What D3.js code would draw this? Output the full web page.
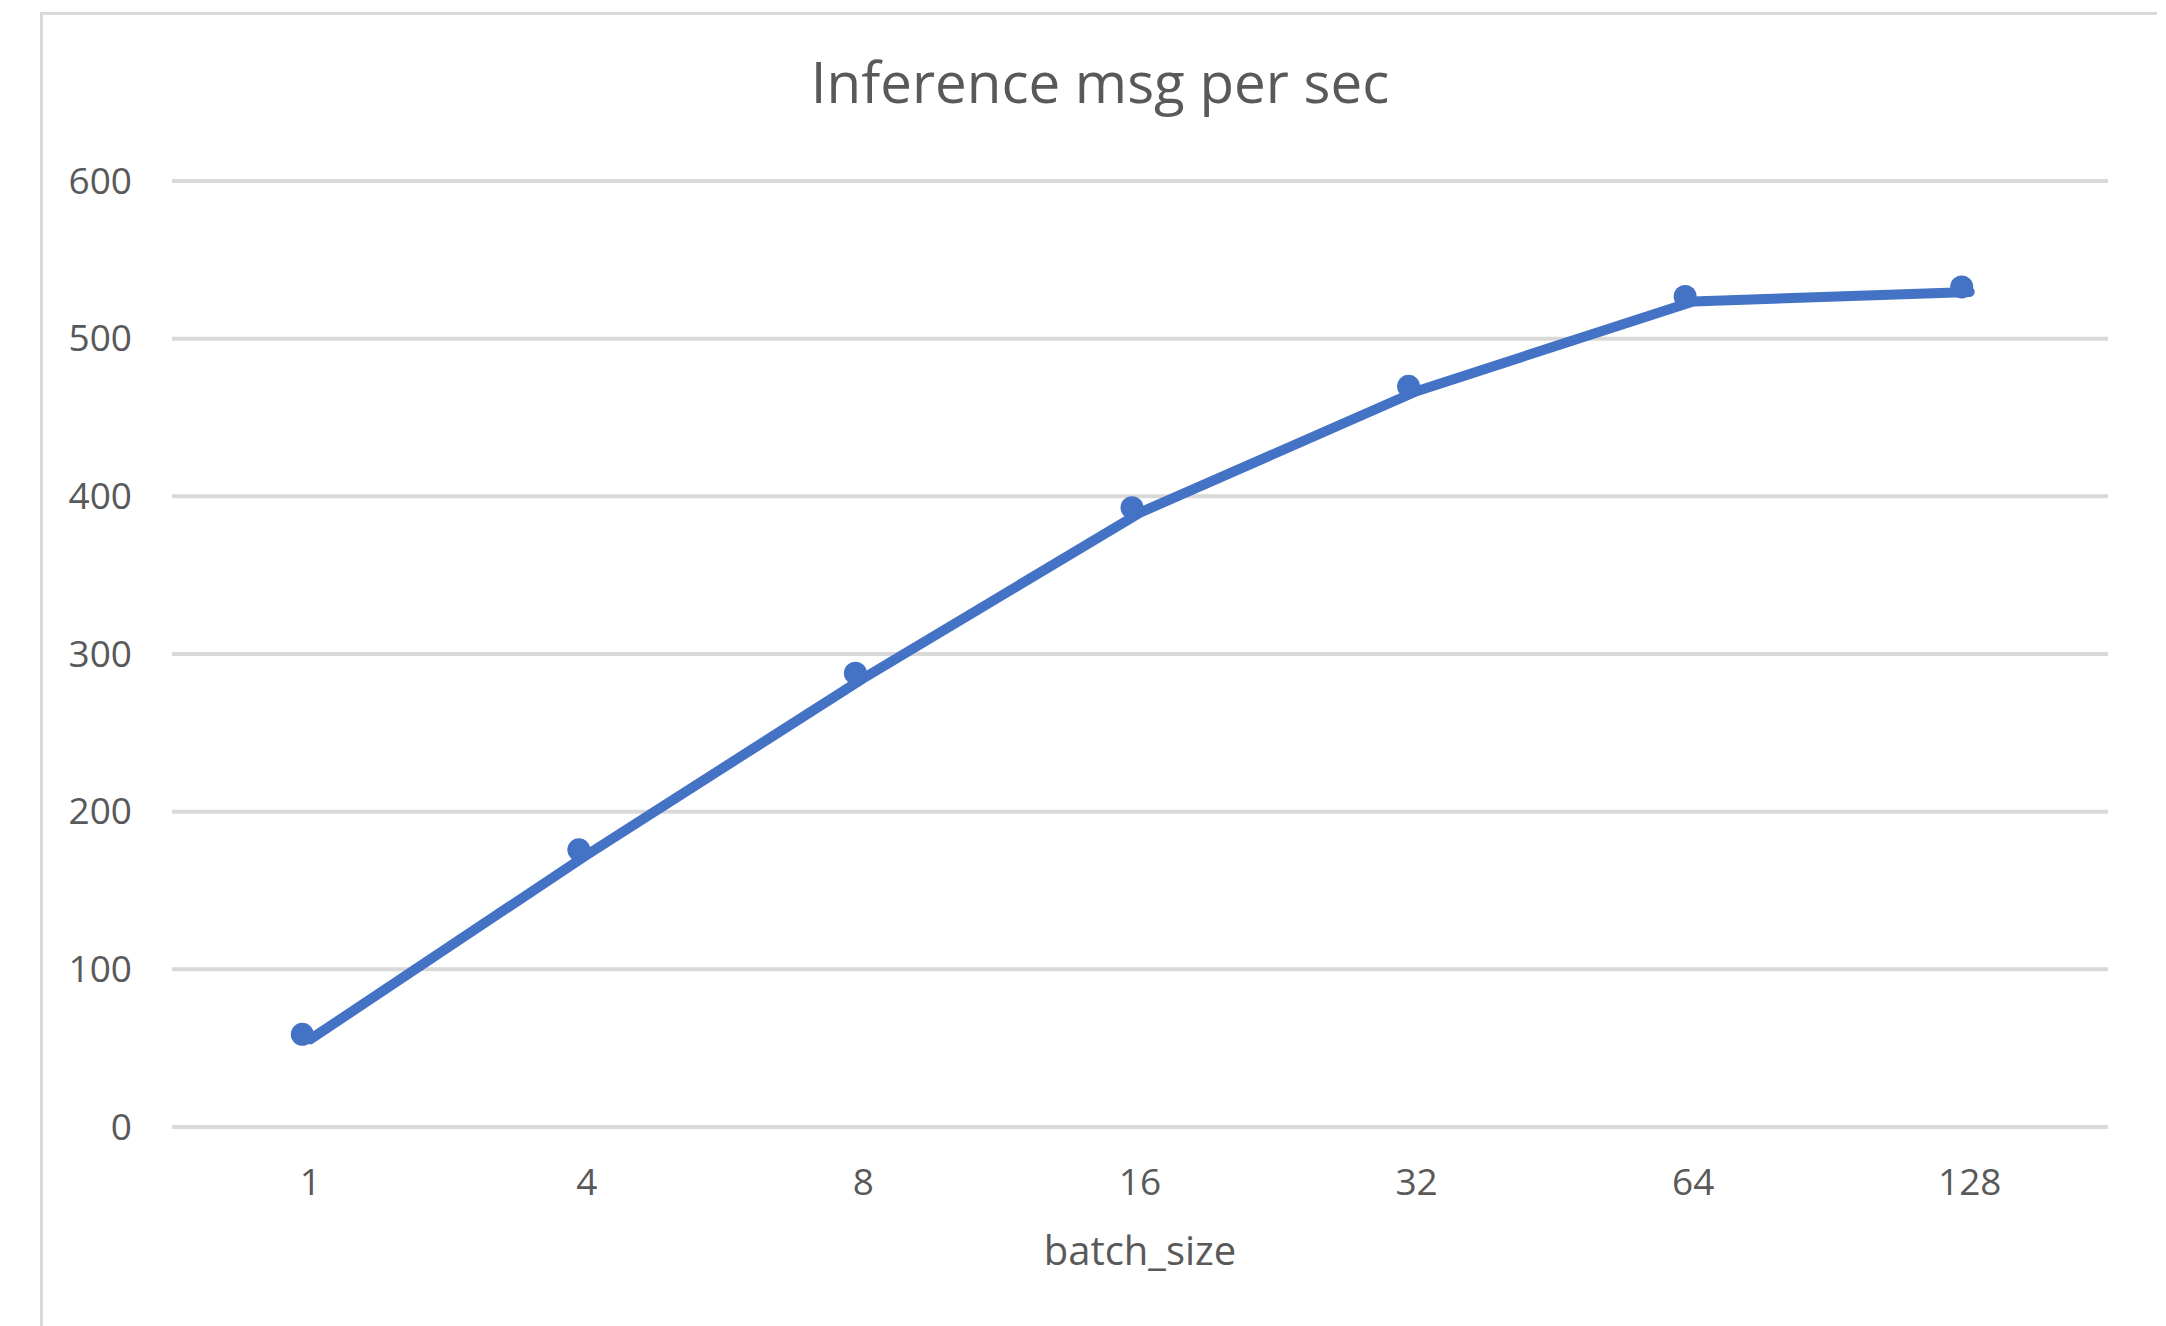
<!DOCTYPE html>
<html>
<head>
<meta charset="utf-8">
<script src="https://cdn.jsdelivr.net/npm/d3@7/dist/d3.min.js"></script>
<style>
  html, body { margin: 0; padding: 0; background: #ffffff; }
  svg { display: block; }
  text { font-family: "Open Sans", "Noto Sans", sans-serif; fill: #595959; }
</style>
</head>
<body>
<svg id="chart" width="2166" height="1326"></svg>
<script>
// ---- data ----
const categories = ["1", "4", "8", "16", "32", "64", "128"];
const msgPerSec = [55, 172, 284, 389, 466, 523, 529];
const yTicks = [0, 100, 200, 300, 400, 500, 600];
const chartTitle = "Inference msg per sec";
const xAxisTitle = "batch_size";

// ---- layout ----
const W = 2166, H = 1326;
const plot = { left: 172, right: 2108, top: 180, bottom: 1126 };
const lineColor = "#4472C4";
const gridColor = "#d9d9d9";
const markerOffset = { dx: -8, dy: -5 };

const svg = d3.select("#chart");

// chart-area border (top and left edges visible)
svg.append("path")
  .attr("d", `M41.5,${H} L41.5,13.5 L2157,13.5`)
  .attr("fill", "none")
  .attr("stroke", gridColor)
  .attr("stroke-width", 3);

const x = d3.scaleBand().domain(categories).range([plot.left, plot.right]).paddingInner(0).paddingOuter(0);
const y = d3.scaleLinear().domain([0, 600]).range([plot.bottom, plot.top]);

// gridlines via axis
const yGrid = svg.append("g")
  .attr("transform", `translate(${plot.left},0.5)`)
  .call(d3.axisLeft(y).tickValues(yTicks).tickSize(-(plot.right - plot.left)).tickFormat(""));
yGrid.select(".domain").remove();
yGrid.selectAll(".tick line").attr("stroke", gridColor).attr("stroke-width", 4);

// y tick labels
const yAx = svg.append("g")
  .attr("transform", `translate(${plot.left - 40},0)`)
  .call(d3.axisLeft(y).tickValues(yTicks).tickSize(0).tickPadding(0).tickFormat(d3.format("d")));
yAx.select(".domain").remove();
yAx.selectAll(".tick text")
  .attr("font-size", 37)
  .attr("text-anchor", "end")
  .attr("dy", "0.36em")
  .style("fill", "#595959")
  .style("font-family", '"Open Sans", sans-serif');

// x tick labels
const xAx = svg.append("g")
  .attr("transform", `translate(0,${plot.bottom})`)
  .call(d3.axisBottom(x).tickSize(0).tickPadding(0));
xAx.select(".domain").remove();
xAx.selectAll(".tick text")
  .attr("font-size", 37)
  .attr("y", 69)
  .attr("dy", 0)
  .style("fill", "#595959")
  .style("font-family", '"Open Sans", sans-serif');

// line
const cx = d => x(d) + x.bandwidth() / 2;
const line = d3.line()
  .x((d, i) => cx(categories[i]))
  .y(d => y(d));

svg.append("path")
  .datum(msgPerSec)
  .attr("d", line)
  .attr("fill", "none")
  .attr("stroke", lineColor)
  .attr("stroke-width", 10)
  .attr("stroke-linejoin", "round")
  .attr("stroke-linecap", "round");

// markers
svg.append("g").selectAll("circle")
  .data(msgPerSec)
  .join("circle")
  .attr("cx", (d, i) => cx(categories[i]) + markerOffset.dx)
  .attr("cy", d => y(d) + markerOffset.dy)
  .attr("r", 11.5)
  .attr("fill", lineColor);

// title
svg.append("text")
  .attr("x", 1100)
  .attr("y", 103)
  .attr("text-anchor", "middle")
  .attr("font-size", 56.5)
  .text(chartTitle);

// x axis title
svg.append("text")
  .attr("x", (plot.left + plot.right) / 2)
  .attr("y", 1265)
  .attr("text-anchor", "middle")
  .attr("font-size", 40)
  .text(xAxisTitle);
</script>
</body>
</html>
